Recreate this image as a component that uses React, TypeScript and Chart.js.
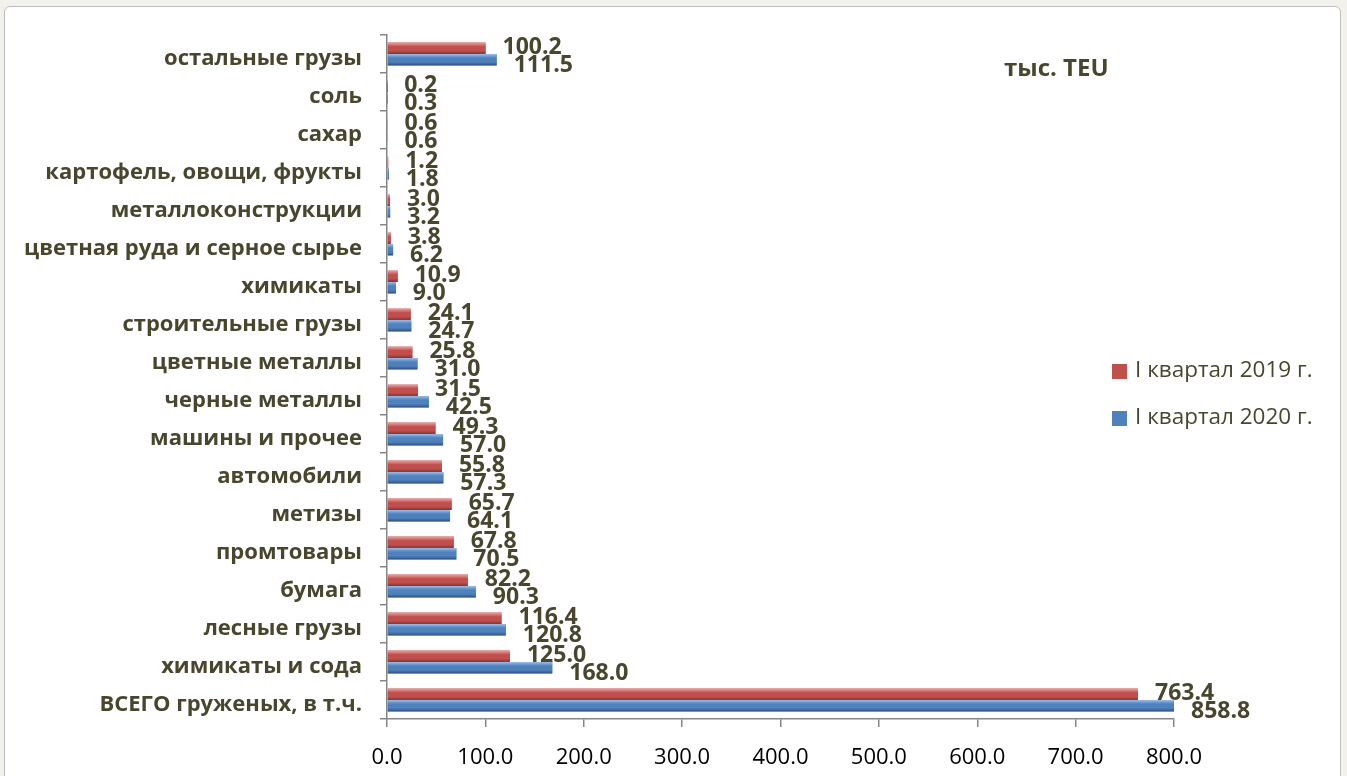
import React, { useEffect, useRef } from 'react';
import { Chart, registerables } from 'chart.js';

Chart.register(...registerables);

const categories = [
  'остальные грузы',
  'соль',
  'сахар',
  'картофель, овощи, фрукты',
  'металлоконструкции',
  'цветная руда и серное сырье',
  'химикаты',
  'строительные грузы',
  'цветные металлы',
  'черные металлы',
  'машины и прочее',
  'автомобили',
  'метизы',
  'промтовары',
  'бумага',
  'лесные грузы',
  'химикаты и сода',
  'ВСЕГО груженых, в т.ч.',
];

const series2019 = [100.2, 0.2, 0.6, 1.2, 3.0, 3.8, 10.9, 24.1, 25.8, 31.5, 49.3, 55.8, 65.7, 67.8, 82.2, 116.4, 125.0, 763.4];
const series2020 = [111.5, 0.3, 0.6, 1.8, 3.2, 6.2, 9.0, 24.7, 31.0, 42.5, 57.0, 57.3, 64.1, 70.5, 90.3, 120.8, 168.0, 858.8];

const seriesLabels = ['I квартал 2019 г.', 'I квартал 2020 г.'];
const unitLabel = 'тыс. TEU';
const axisMin = 0;
const axisMax = 800;
const axisStep = 100;

const FONT = "'Open Sans', 'Noto Sans', sans-serif";
const TEXT_DARK = '#49462e';
const RED = '#C0504D';
const BLUE = '#4F81BD';
const gradStops = [
  ['#e8a3a1', '#C0504D', '#C0504D', '#8a3331'],
  ['#9dbde6', '#4F81BD', '#4F81BD', '#2f5281'],
];

const barShadePlugin = {
  id: 'barShade',
  afterDatasetsDraw(chart: any) {
    const { ctx, chartArea } = chart;
    ctx.save();
    ctx.beginPath();
    ctx.rect(chartArea.left, chartArea.top, chartArea.right - chartArea.left, chartArea.bottom - chartArea.top);
    ctx.clip();
    chart.data.datasets.forEach((ds: any, di: number) => {
      const meta = chart.getDatasetMeta(di);
      const stops = gradStops[di];
      meta.data.forEach((el: any) => {
        const p = el.getProps(['x', 'y', 'base', 'height'], true);
        const left = Math.min(p.base, p.x);
        const w = Math.abs(p.x - p.base);
        const top = p.y - p.height / 2;
        const g = ctx.createLinearGradient(0, top, 0, top + p.height);
        g.addColorStop(0, stops[0]);
        g.addColorStop(0.35, stops[1]);
        g.addColorStop(0.7, stops[2]);
        g.addColorStop(1, stops[3]);
        ctx.fillStyle = g;
        ctx.fillRect(left, top, w, p.height);
      });
    });
    ctx.restore();
  },
};

const dataLabelPlugin = {
  id: 'dataLabels',
  afterDraw(chart: any) {
    const { ctx, chartArea } = chart;
    ctx.save();
    ctx.font = `bold 23px ${FONT}`;
    ctx.fillStyle = TEXT_DARK;
    ctx.textAlign = 'left';
    ctx.textBaseline = 'middle';
    chart.data.datasets.forEach((ds: any, di: number) => {
      const meta = chart.getDatasetMeta(di);
      const dy = di === 0 ? -1 : 6;
      meta.data.forEach((el: any, i: number) => {
        const p = el.getProps(['x', 'y'], true);
        const x = Math.min(p.x, chartArea.right) + 17;
        ctx.fillText(Number(ds.data[i]).toFixed(1), x, p.y + dy);
      });
    });
    ctx.restore();
  },
};

const legendPlugin = {
  id: 'customLegend',
  afterDraw(chart: any) {
    const { ctx } = chart;
    ctx.save();
    ctx.font = `bold 24px ${FONT}`;
    ctx.fillStyle = TEXT_DARK;
    ctx.textAlign = 'left';
    ctx.textBaseline = 'middle';
    ctx.fillText(unitLabel, 1004, 69);
    const colors = [RED, BLUE];
    const ys = [371, 418];
    ctx.font = `22.5px ${FONT}`;
    seriesLabels.forEach((lab, i) => {
      ctx.fillStyle = colors[i];
      ctx.fillRect(1112, ys[i] - 7, 15, 15);
      ctx.fillStyle = TEXT_DARK;
      ctx.fillText(lab, 1135, ys[i]);
    });
    ctx.restore();
  },
};

export default function App() {
  const canvasRef = useRef<HTMLCanvasElement | null>(null);

  useEffect(() => {
    if (!canvasRef.current) return;
    const chart = new Chart(canvasRef.current, {
      type: 'bar',
      data: {
        labels: categories,
        datasets: [
          { label: seriesLabels[0], data: series2019, backgroundColor: RED, categoryPercentage: 0.6, barPercentage: 1.0 },
          { label: seriesLabels[1], data: series2020, backgroundColor: BLUE, categoryPercentage: 0.6, barPercentage: 1.0 },
        ],
      },
      options: {
        indexAxis: 'y',
        animation: false,
        responsive: false,
        maintainAspectRatio: false,
        layout: { padding: { top: 35, right: 173, bottom: 0, left: 0 } },
        plugins: {
          legend: { display: false },
          tooltip: { enabled: false },
        },
        scales: {
          x: {
            min: axisMin,
            max: axisMax,
            ticks: {
              stepSize: axisStep,
              color: '#000000',
              font: { family: FONT, size: 22 },
              padding: 18,
              callback: (v: any) => Number(v).toFixed(1),
            },
            grid: { display: true, drawOnChartArea: false, drawTicks: true, tickLength: 8, color: '#868686', lineWidth: 1.5 },
            border: { display: true, color: '#868686', width: 1.5 },
            afterFit: (scale: any) => { scale.height = 57; },
          },
          y: {
            ticks: {
              color: TEXT_DARK,
              font: { family: FONT, size: 22, weight: 'bold' },
              padding: 18,
              labelOffset: 5,
              autoSkip: false,
            },
            grid: { display: true, offset: true, drawOnChartArea: false, drawTicks: true, tickLength: 7, color: '#868686', lineWidth: 1.5 },
            border: { display: true, color: '#868686', width: 1.5 },
            afterFit: (scale: any) => { scale.width = 387; },
          },
        },
      },
      plugins: [barShadePlugin, dataLabelPlugin, legendPlugin],
    });
    return () => chart.destroy();
  }, []);

  return (
    <div style={{ position: 'fixed', left: 0, top: 0, width: 1347, height: 776, overflow: 'hidden', background: '#F3F1EC' }}>
      <div style={{ position: 'absolute', left: 4, top: 6, width: 1335, height: 790, background: '#ffffff', border: '1px solid #BDBDBD', borderRadius: 6 }} />
      <canvas ref={canvasRef} width={1347} height={776} style={{ position: 'absolute', left: 0, top: 0, width: 1347, height: 776 }} />
    </div>
  );
}
